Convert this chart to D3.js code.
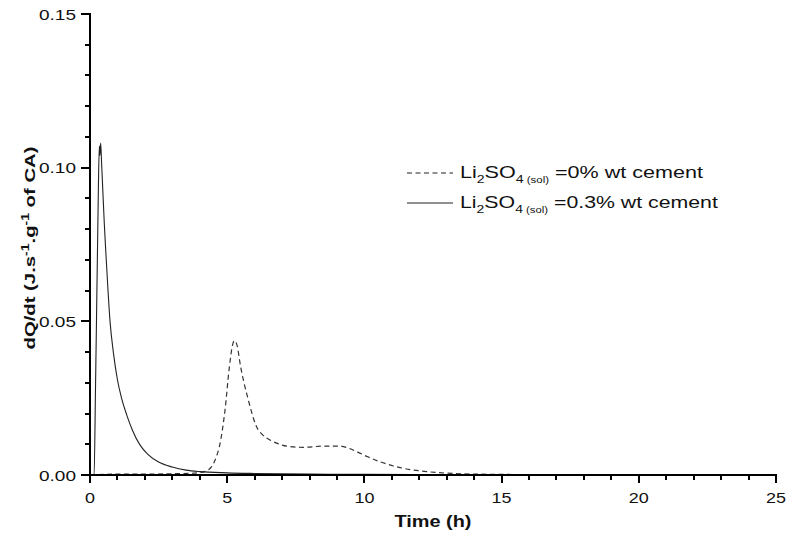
<!DOCTYPE html>
<html><head><meta charset="utf-8">
<script src="https://cdn.jsdelivr.net/npm/d3@7"></script>
<style>body{margin:0;background:#fff;font-family:Arial,"Liberation Sans",sans-serif}</style>
</head><body><div id="chart"></div>
<script>
const xTicks = [0,5,10,15,20,25];
const yTicks = [0.00,0.05,0.10,0.15];
const yTickLabels = ["0.00","0.05","0.10","0.15"];
// Li2SO4 = 0.3% wt cement (solid)
const solidT = [0,0.15,0.2,0.26,0.3,0.34,0.36,0.39,0.42,0.46,0.52,0.58,0.65,0.73,0.85,1.0,1.15,1.34,1.55,1.82,2.1,2.5,3.0,3.5,4.0,5,6,8,10,15,20,25];
const solidY = [0,0,0.028,0.065,0.09,0.107,0.104,0.108,0.102,0.094,0.082,0.072,0.061,0.050,0.040,0.031,0.025,0.0195,0.0145,0.0098,0.0068,0.0042,0.0026,0.0016,0.0011,0.0007,0.0005,0.0003,0.0002,0.0001,0.0001,0.0001];
// Li2SO4 = 0% wt cement (dashed)
const dashT = [0,1,2,3,3.8,4.2,4.43,4.6,4.74,4.92,5.08,5.2,5.26,5.35,5.49,5.77,6.07,6.3,6.56,6.85,7.17,7.77,8.5,9.11,9.4,9.72,10.1,10.57,11.3,12.27,13,14,15,17,20,25];
const dashY = [0,0.0003,0.0003,0.0004,0.0006,0.0012,0.0027,0.0058,0.0103,0.0211,0.0352,0.0425,0.0437,0.0425,0.0352,0.0244,0.0157,0.0130,0.0114,0.0102,0.0094,0.0090,0.0094,0.0094,0.0088,0.0076,0.0060,0.0043,0.0024,0.0011,0.0006,0.0003,0.0002,0.0001,0.0001,0.0000];
const legendLabels = ["=0% wt cement","=0.3% wt cement"];

const W=788,H=542;
const svg=d3.select("#chart").append("svg").attr("width",W).attr("height",H);
const x=d3.scaleLinear().domain([0,25]).range([90,776]);
const y=d3.scaleLinear().domain([0,0.15]).range([475,14]);

const line=d3.line().x(d=>x(d[0])).y(d=>y(d[1])).curve(d3.curveMonotoneX);
svg.append("path").datum(dashT.map((t,i)=>[t,dashY[i]])).attr("d",line)
  .attr("fill","none").attr("stroke","#333").attr("stroke-width",1.2).attr("stroke-dasharray","5,3.5");
svg.append("path").datum(solidT.map((t,i)=>[t,solidY[i]])).attr("d",line)
  .attr("fill","none").attr("stroke","#222").attr("stroke-width",1.1);

// axes with ticks, each axis one path
const x0=x(0), x1=x(25), y0=y(0), y1=y(0.15);
let dx=`M${x0-1},${y0}H${x1+1}`;
d3.range(0,26,1).forEach(v=>{ const px=Math.round(x(v)); dx+=`M${px},${y0}V${y0+(v%5===0?8:5)}`; });
let dy=`M${x0},${y1-1}V${y0+1}`;
d3.range(0,16,1).forEach(k=>{ const py=Math.round(y(k/100)); dy+=`M${x0},${py}H${x0-(k%5===0?9:5)}`; });
svg.append("path").attr("d",dx).attr("fill","none").attr("stroke","#000").attr("stroke-width",2);
svg.append("path").attr("d",dy).attr("fill","none").attr("stroke","#000").attr("stroke-width",2);

// tick labels
const probeX=svg.append("text").attr("font-size",15).text("15");
const sX=20/probeX.node().getComputedTextLength(); probeX.remove();
xTicks.forEach(v=>{
  const g=svg.append("g").attr("transform",`translate(${x(v)},503) scale(${sX},1)`);
  g.append("text").attr("text-anchor","middle").attr("font-size",15).attr("fill","#111").text(v);
});
const probeY=svg.append("text").attr("font-size",15).text("0.10");
const sY=37/probeY.node().getComputedTextLength(); probeY.remove();
yTicks.forEach((v,i)=>{
  const g=svg.append("g").attr("transform",`translate(76,${y(v)+5.5}) scale(${sY},1)`);
  g.append("text").attr("text-anchor","end").attr("font-size",15).attr("fill","#111").text(yTickLabels[i]);
});

// axis titles
{
  const g=svg.append("g");
  const t=g.append("text").attr("text-anchor","middle").attr("font-size",16).attr("font-weight","bold").attr("fill","#111").text("Time (h)");
  const s=77/t.node().getComputedTextLength();
  g.attr("transform",`translate(433,527) scale(${s},1)`);
}
{
  const g=svg.append("g");
  const yl=g.append("text").attr("text-anchor","middle").attr("font-size",14.5).attr("font-weight","bold").attr("fill","#111");
  yl.append("tspan").text("dQ/dt  (J.s");
  yl.append("tspan").attr("font-size",10).attr("dy",-6).text("-1");
  yl.append("tspan").attr("dy",6).text(".g");
  yl.append("tspan").attr("font-size",10).attr("dy",-6).text("-1");
  yl.append("tspan").attr("dy",6).text(" of CA)");
  const s=203/yl.node().getComputedTextLength();
  g.attr("transform",`translate(35,248) rotate(-90) scale(${s},1)`);
}

// legend
const legendDash=["5,3.5",null];
const legendTargets=[243,258];
legendLabels.forEach((lab,i)=>{
  const by=178+i*30;
  svg.append("line").attr("x1",407).attr("x2",453).attr("y1",by-5).attr("y2",by-5).attr("stroke","#222").attr("stroke-width",1.1).attr("stroke-dasharray",legendDash[i]);
  const g=svg.append("g");
  const t=g.append("text").attr("font-size",16).attr("fill","#111");
  t.append("tspan").text("Li");
  t.append("tspan").attr("font-size",10.5).attr("dy",5).text("2");
  t.append("tspan").attr("dy",-5).text("SO");
  t.append("tspan").attr("font-size",10.5).attr("dy",5).text("4");
  t.append("tspan").attr("font-size",8.5).text("  (sol)");
  t.append("tspan").attr("dy",-5).text(" "+lab);
  const s=legendTargets[i]/t.node().getComputedTextLength();
  g.attr("transform",`translate(460,${by}) scale(${s},1)`);
});
</script></body></html>
